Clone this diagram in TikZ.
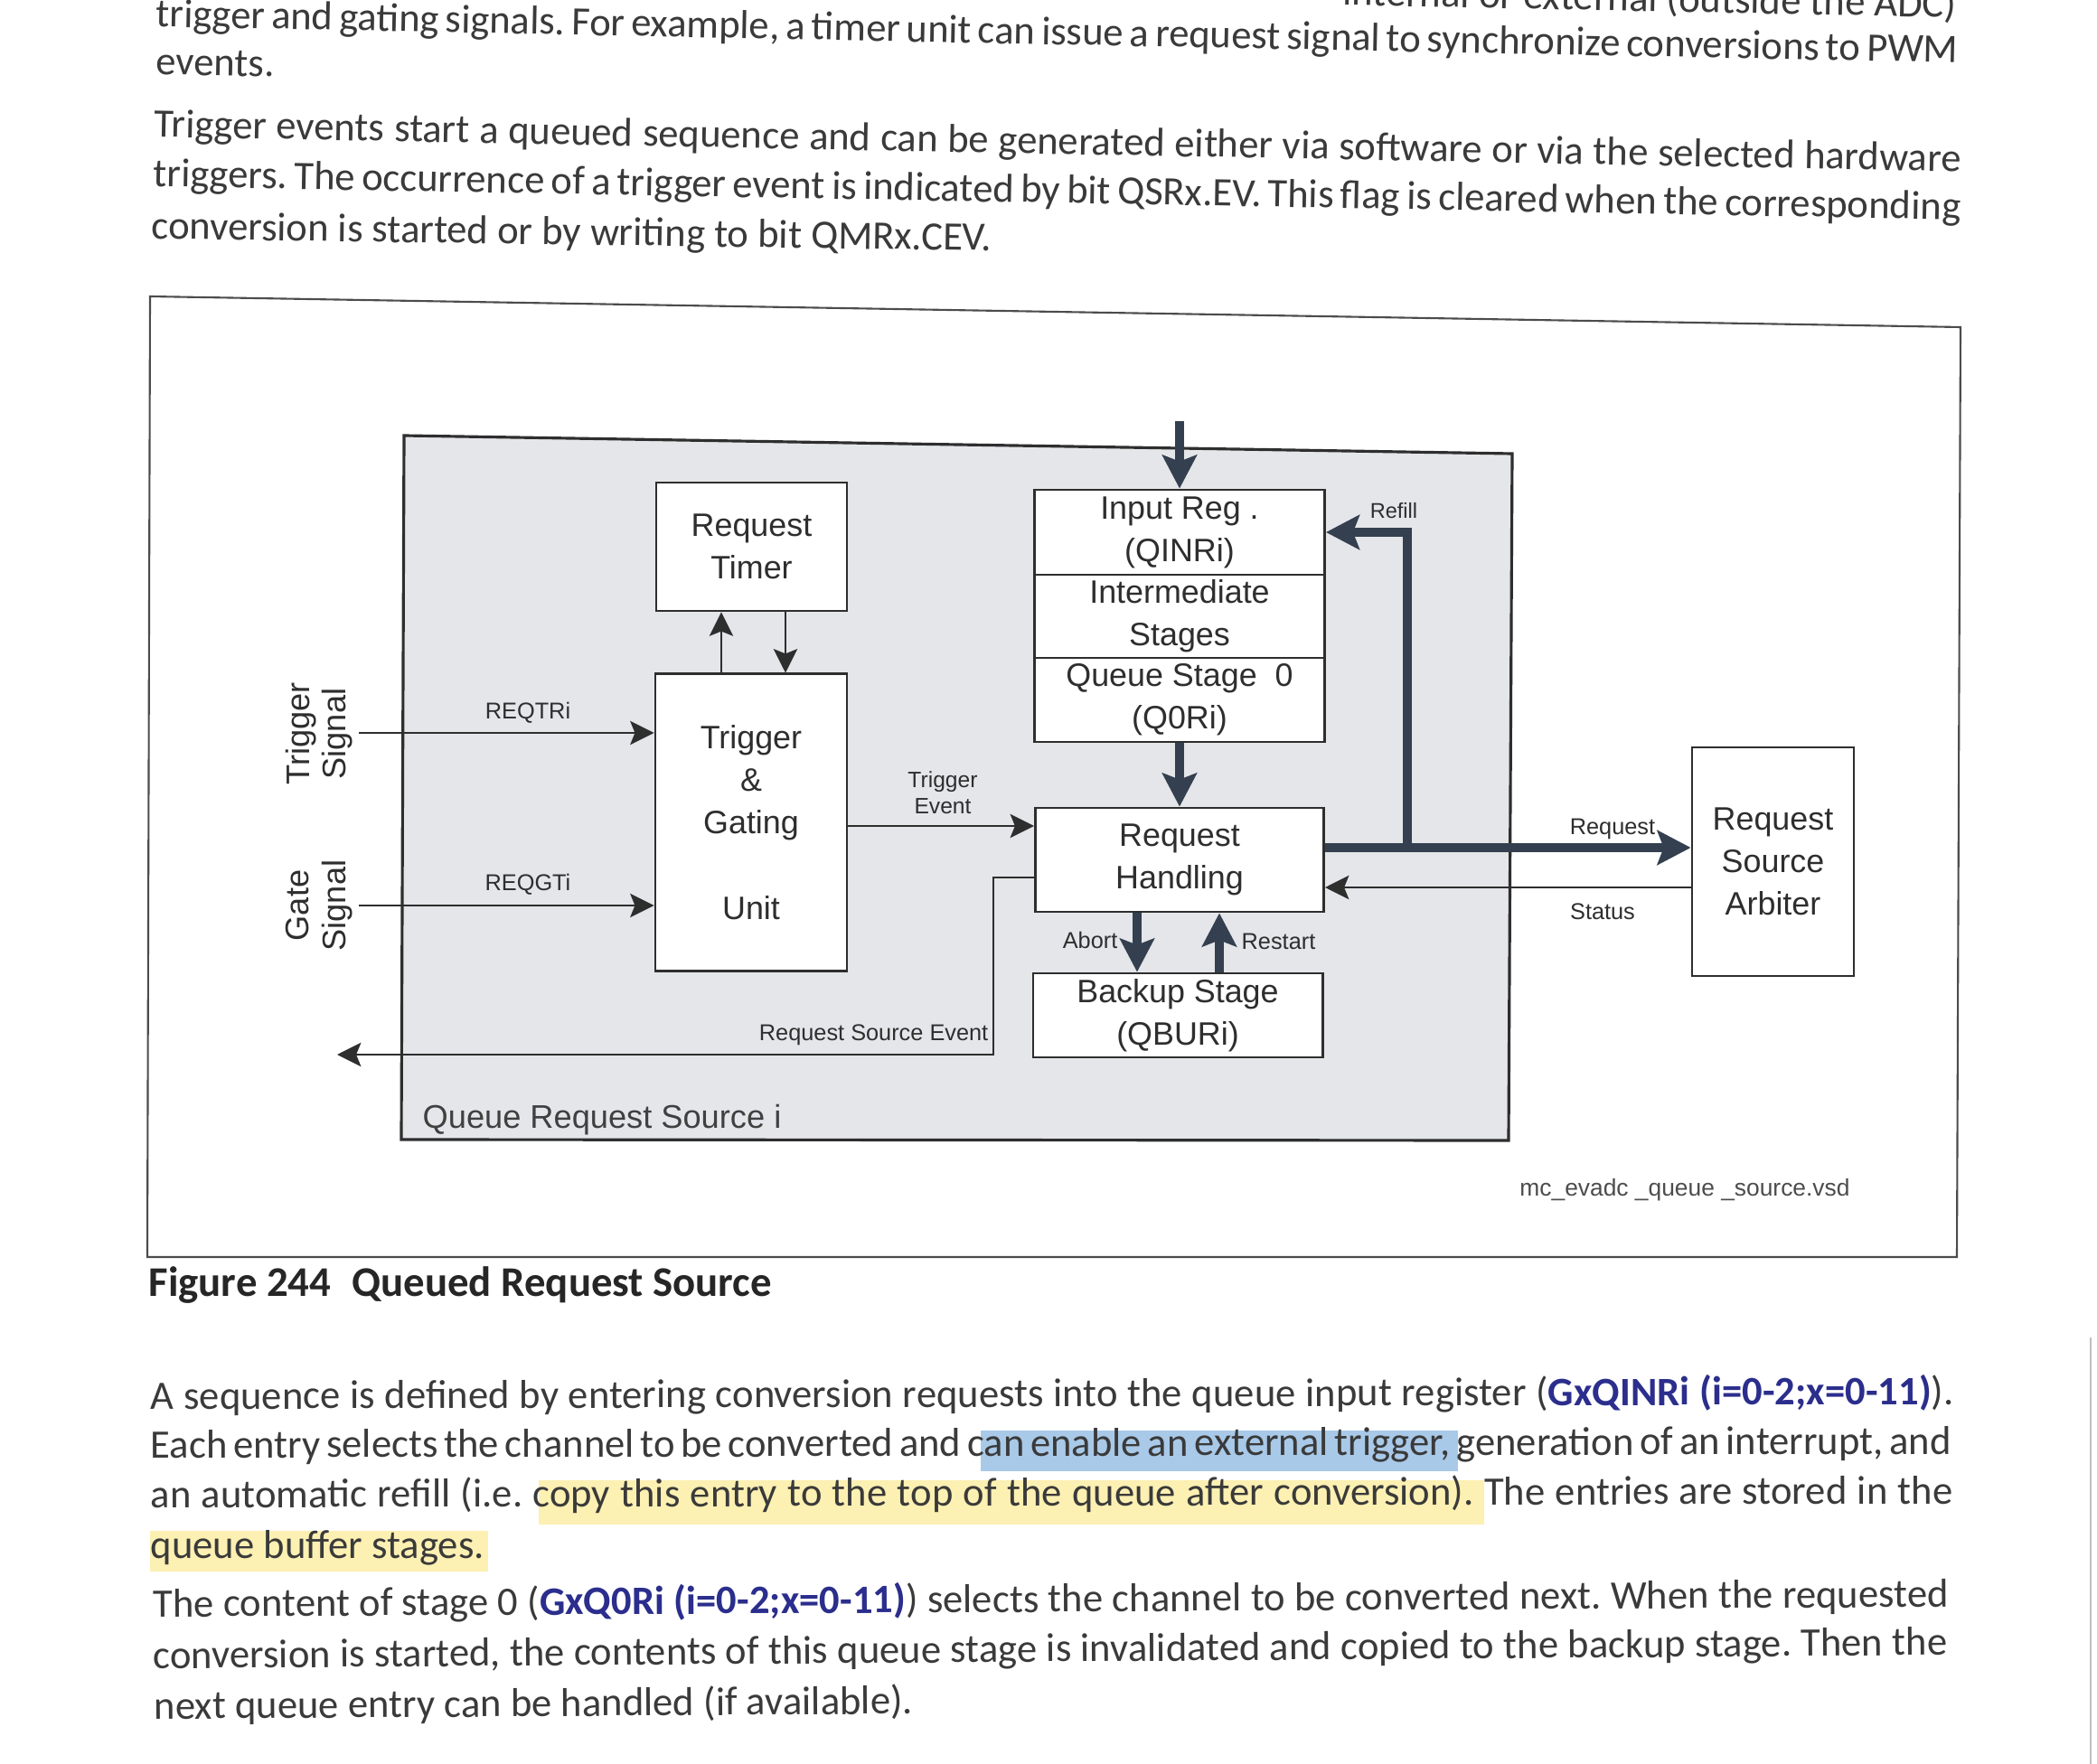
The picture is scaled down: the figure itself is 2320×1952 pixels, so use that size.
\documentclass[tikz,border=0pt]{standalone}
\usepackage{fontspec}
\setmainfont{Carlito}
\newfontfamily\arialf{Liberation Sans}
\usetikzlibrary{arrows.meta}
\definecolor{ink}{HTML}{2E2E2E}
\definecolor{ptxt}{HTML}{3A3A3A}
\definecolor{slate}{HTML}{34404F}
\definecolor{panel}{HTML}{E4E6E9}
\definecolor{qblue}{HTML}{2B2E8C}
\definecolor{hlblue}{HTML}{A9C9E8}
\definecolor{hlyellow}{HTML}{FCF0B2}
\frenchspacing
\tikzset{
  para/.style={font=\fontsize{12.7}{14}\selectfont, text=ptxt, inner sep=0pt, anchor=mid west},
  blk/.style={draw=ink, line width=0.8pt, fill=white, inner sep=0pt, align=center, text=ink,
    font=\arialf\fontsize{10.2}{13.4}\selectfont},
  lbl/.style={inner sep=0pt, text=ink, font=\arialf\fontsize{7.2}{8.6}\selectfont, align=center},
  sidelbl/.style={inner sep=0pt, text=ink, rotate=90, align=center, font=\arialf\fontsize{10.3}{11.5}\selectfont},
  thinarrow/.style={draw=ink, line width=0.6pt, -{Stealth[length=7.5pt,width=7.5pt,inset=1.5pt]}},
  thickarrow/.style={draw=slate, line width=2.85pt, line join=miter, -{Stealth[length=10.5pt,width=10.8pt,inset=2pt]}},
}
\begin{document}
\begin{tikzpicture}[x=0.01cm,y=-0.01cm]
\useasboundingbox (0,0) rectangle (2320,1952);
\fill[white] (0,0) rectangle (2320,1952);

% ---------- top paragraph ----------
\node[para, anchor=mid east, rotate=-1.15] (p0) at (2165,11) {internal or external (outside the ADC)};
\node[para, rotate=-1.15] (p1) at (172,21) {\makebox[19.93cm][s]{trigger and gating signals. For example, a timer unit can issue a request signal to synchronize conversions to PWM}};
\node[para, rotate=-1.15] (p2) at (172,74) {events.};
\node[para, rotate=-1.1] (p3) at (170,143) {\makebox[19.98cm][s]{Trigger events start a queued sequence and can be generated either via software or via the selected hardware}};
\node[para, rotate=-1.05] (p4) at (169,198) {\makebox[19.99cm][s]{triggers. The occurrence of a trigger event is indicated by bit QSRx.EV. This flag is cleared when the corresponding}};
\node[para, rotate=-0.8] (p5) at (167,256) {conversion is started or by writing to bit QMRx.CEV.};

% ---------- figure frame ----------
\draw[draw=black!70, line width=0.6pt] (166,328) -- (2169,362) -- (2165,1391) -- (163,1391) -- cycle;
\fill[panel] (447,482) -- (1673,502) -- (1669,1262) -- (444,1261) -- cycle;
\draw[draw=ink, line width=0.9pt] (447,482) -- (1673,502) -- (1669,1262) -- (444,1261) -- cycle;

% ---------- blocks ----------
\node[blk, minimum width=2.11cm, minimum height=1.42cm] (timer) at (831.5,605) {Request\\Timer};
\node[blk, minimum width=2.12cm, minimum height=3.28cm] (tgu) at (831,910) {Trigger\\\&\\Gating\\[13.4pt]Unit};
\node[blk, minimum width=3.21cm, minimum height=0.94cm] (qin) at (1305,589) {Input Reg .\\(QINRi)};
\node[blk, minimum width=3.21cm, minimum height=0.92cm] (qint) at (1305,682) {Intermediate\\Stages};
\node[blk, minimum width=3.21cm, minimum height=0.93cm] (qzero) at (1305,774.5) {Queue Stage\ \ 0\\(Q0Ri)};
\node[blk, minimum width=3.19cm, minimum height=1.15cm] (rh) at (1305,951.5) {Request\\Handling};
\node[blk, minimum width=3.20cm, minimum height=0.93cm] (bs) at (1303,1123.5) {Backup Stage\\(QBURi)};
\node[blk, minimum width=1.79cm, minimum height=2.53cm] (rsa) at (1961.5,953.5) {Request\\Source\\Arbiter};

% ---------- helper coordinates ----------
\coordinate (xU) at (798,0);
\coordinate (xD) at (869,0);
\coordinate (sTrig) at (397,811);
\coordinate (sGate) at (397,1002);
\coordinate (yTE) at (0,914);
\coordinate (rseA) at (1099,971);
\coordinate (rseB) at (1099,1167);
\coordinate (rseEnd) at (373,1167);
\coordinate (inTop) at (1305,466);
\coordinate (xAb) at (1258,0);
\coordinate (xRs) at (1349,0);
\coordinate (yReq) at (0,938);
\coordinate (ySt) at (0,982);
\coordinate (rfB) at (1557,938);

% ---------- connectors ----------
\draw[thinarrow] (tgu.north -| xU) -- (timer.south -| xU);
\draw[thinarrow] (timer.south -| xD) -- (tgu.north -| xD);
\draw[thinarrow] (sTrig) -- (sTrig -| tgu.west);
\draw[thinarrow] (sGate) -- (sGate -| tgu.west);
\draw[thinarrow] (tgu.east |- yTE) -- (rh.west |- yTE);
\draw[thinarrow] (rh.west |- rseA) -- (rseA) -- (rseB) -- (rseEnd);
\draw[thinarrow] (rsa.west |- ySt) -- (rh.east |- ySt);

\draw[thickarrow] (inTop) -- (qin.north);
\draw[thickarrow] (qzero.south) -- (rh.north);
\draw[thickarrow] (rh.south -| xAb) -- (bs.north -| xAb);
\draw[thickarrow] (bs.north -| xRs) -- (rh.south -| xRs);
\draw[thickarrow] (rh.east |- yReq) -- (rsa.west |- yReq);
\draw[thickarrow] (rfB) -- (rfB |- qin.east) -- (qin.east);

% ---------- labels ----------
\node[sidelbl] (tsig) at (353,812) {Trigger\\Signal};
\node[sidelbl] (gsig) at (353,1002) {Gate\\Signal};
\node[lbl] (lreqtr) at (584,789) {REQTRi};
\node[lbl] (lreqgt) at (584,979) {REQGTi};
\node[lbl, font=\arialf\fontsize{7}{8.4}\selectfont] (lte) at (1043,877) {Trigger\\Event};
\node[lbl, anchor=east] (lrse) at (1094,1145) {Request Source Event};
\node[lbl, anchor=east] (lab) at (1237,1040) {Abort};
\node[lbl, anchor=west] (lrs) at (1373,1042) {Restart};
\node[lbl, font=\arialf\fontsize{6.7}{8}\selectfont] (lrf) at (1542,565) {Refill};
\node[lbl] (lreq) at (1784,917) {Request};
\node[lbl] (lst) at (1773,1009) {Status};
\node[inner sep=0pt, anchor=mid west, text=black!75, font=\arialf\fontsize{10.3}{12}\selectfont] (qrs) at (467,1240) {Queue Request Source i};
\node[lbl, text=black!70, font=\arialf\fontsize{7.5}{9}\selectfont] (vsd) at (1864,1317) {mc\_evadc \_queue \_source.vsd};

% ---------- caption ----------
\node[para, text=black!85, font=\bfseries\fontsize{13.3}{15}\selectfont] (cap) at (164,1426) {Figure 244\enspace Queued Request Source};

% ---------- bottom paragraphs ----------
\fill[hlblue] (1085,1583) rectangle (1613,1628);
\fill[hlyellow] (596,1638) rectangle (1642,1687);
\fill[hlyellow] (166,1694) rectangle (540,1739);
\node[para, rotate=0.15] (b1) at (166,1551) {\makebox[19.94cm][s]{A sequence is defined by entering conversion requests into the queue input register ({\bfseries\color{qblue}GxQINRi (i=0-2;x=0-11)}).}};
\node[para, rotate=0.12] (b2) at (166,1605) {\makebox[19.91cm][s]{Each entry selects the channel to be converted and can enable an external trigger, generation of an interrupt, and}};
\node[para, rotate=0.12] (b3) at (166,1660) {\makebox[19.93cm][s]{an automatic refill (i.e. copy this entry to the top of the queue after conversion). The entries are stored in the}};
\node[para] (b4) at (166,1716) {queue buffer stages.};
\node[para, rotate=0.32] (b5) at (169,1781) {\makebox[19.85cm][s]{The content of stage 0 ({\bfseries\color{qblue}GxQ0Ri (i=0-2;x=0-11)}) selects the channel to be converted next. When the requested}};
\node[para, rotate=0.43] (b6) at (169,1838) {\makebox[19.84cm][s]{conversion is started, the contents of this queue stage is invalidated and copied to the backup stage. Then the}};
\node[para, rotate=0.4] (b7) at (170,1894) {next queue entry can be handled (if available).};

\draw[black!25, line width=0.6pt] (2313,1480) -- (2313,1952);
\end{tikzpicture}
\end{document}
